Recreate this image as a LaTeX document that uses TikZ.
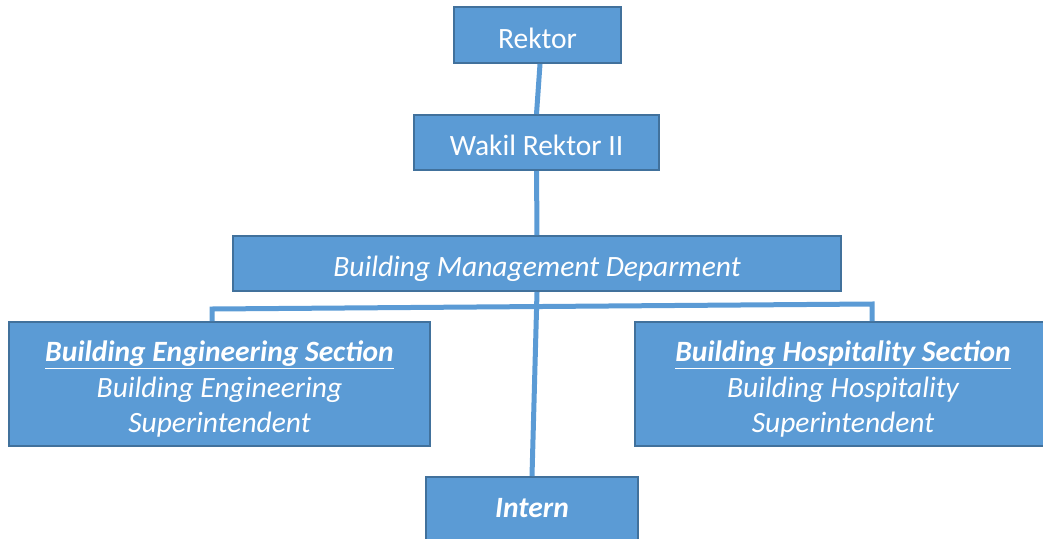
\documentclass[tikz,border=0pt]{standalone}
\usepackage{fontspec}
\setmainfont{Carlito}
\usepackage{tikz}

\definecolor{boxfill}{HTML}{5B9BD5}
\definecolor{boxline}{HTML}{41719C}

\begin{document}
\begin{tikzpicture}[x=1pt, y=-1pt,
  unit node/.style={draw=boxline, line width=2pt, fill=boxfill, text=white,
    inner sep=0pt, align=center, font=\fontsize{29.5}{35.5}\selectfont},
  one line/.style={text height=27pt, text depth=1pt},
  three lines/.style={text height=99pt, text depth=2pt},
  link/.style={draw=boxfill, line width=5pt}]
\useasboundingbox (0,0) rectangle (1043,538);
\node[unit node, one line, minimum width=167pt, minimum height=56pt] (rektor) at (537.5,35) {Rektor};
\node[unit node, one line, minimum width=245pt, minimum height=55pt] (wakil) at (536.5,142.5) {Wakil Rektor II};
\node[unit node, one line, minimum width=608pt, minimum height=55pt] (bmd) at (537,263.5) {\itshape Building Management Deparment};
\node[unit node, three lines, minimum width=421pt, minimum height=124pt] (bes) at (219.5,384)
  {\bfseries\itshape\underline{Building Engineering Section}\\ \itshape Building Engineering\\ \itshape Superintendent};
\node[unit node, three lines, minimum width=416pt, minimum height=124pt] (bhs) at (843,384)
  {\bfseries\itshape\underline{Building Hospitality Section}\\ \itshape Building Hospitality\\ \itshape Superintendent};
\node[unit node, text height=16pt, text depth=0pt, minimum width=212pt, minimum height=64pt] (intern) at (532,509) {\bfseries\itshape Intern};
\coordinate (barL) at (212,309);
\coordinate (barR) at (872,304);
\path[link]
([xshift=2.5pt]rektor.south) -- (wakil.north)
(wakil) -- (bmd)
(bmd.south) -- (intern.north)
(bes.north -| barL) -- (barL) -- (barR) -- (bhs.north -| barR);
\end{tikzpicture}
\end{document}
